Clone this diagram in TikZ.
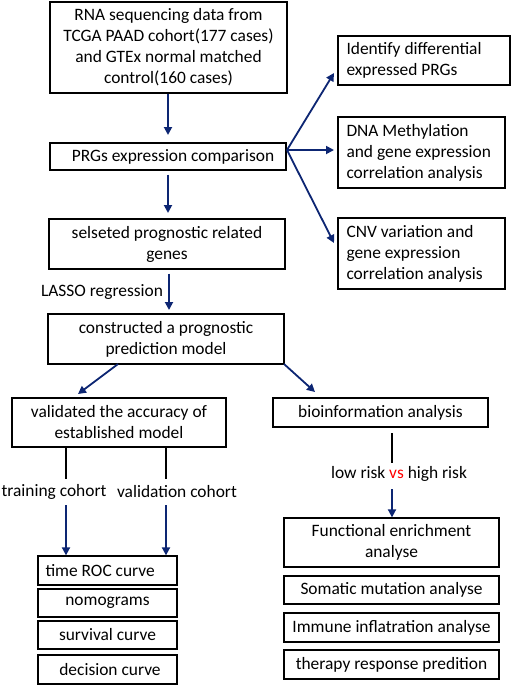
\documentclass[tikz,border=0pt]{standalone}
\usepackage{fontspec}
\setmainfont{Carlito}
\usetikzlibrary{arrows.meta,calc}
\definecolor{navy}{HTML}{0D2673}
\begin{document}
\begin{tikzpicture}[x=1pt,y=-1pt,
  box/.style={draw=black,line width=1.3pt,inner sep=0pt,align=center,font=\fontsize{17.4}{21}\selectfont},
  lbl/.style={inner sep=0pt,font=\fontsize{17.4}{21}\selectfont},
  arr/.style={draw=navy,line width=1.8pt,-{Triangle[length=8pt,width=8pt]}},
  blk/.style={draw=black,line width=2.6pt}]
\useasboundingbox (0,0) rectangle (512,686);
\fill[white] (0,0) rectangle (512,686);
% left column
\node[box,minimum width=237,minimum height=91] (A) at (168.5,47.5) {RNA sequencing data from\\TCGA PAAD cohort(177 cases)\\and GTEx normal matched\\control(160 cases)};
\node[box,minimum width=236,minimum height=27] (B) at (168,156.5) {\hspace*{10pt}PRGs expression comparison};
\node[box,minimum width=236,minimum height=50] (C) at (167,244) {selseted prognostic related\\genes};
\node[box,minimum width=236,minimum height=50] (G) at (166,339) {constructed a prognostic\\prediction model};
\node[box,minimum width=214,minimum height=49] (H) at (119,422.5) {validated the accuracy of\\established model};
\node[box,minimum width=215,minimum height=29] (I) at (380.5,412.5) {bioinformation analysis};
% right column
\node[box,minimum width=172,minimum height=49,align=left] (D) at (424,60.5) {\parbox{155pt}{Identify differential\\expressed PRGs}};
\node[box,minimum width=167,minimum height=71,align=left] (E) at (421.5,152.5) {\parbox{150pt}{DNA Methylation\\and gene expression\\correlation analysis}};
\node[box,minimum width=167,minimum height=71,align=left] (F) at (421.5,253.5) {\parbox{150pt}{CNV variation and\\gene expression\\correlation analysis}};
% bottom left stack
\node[box,minimum width=139,minimum height=29] (R1) at (107.5,570.5) {\makebox[124pt][l]{time ROC curve}};
\node[box,minimum width=139,minimum height=28] (R2) at (107.5,603) {nomograms};
\node[box,minimum width=139,minimum height=28] (R3) at (107.5,635) {survival curve};
\node[box,minimum width=139,minimum height=29] (R4) at (107.5,669.5) {\hspace*{5pt}decision curve};
% bottom right stack
\node[box,minimum width=215,minimum height=49] (S1) at (391.5,542.5) {Functional enrichment\\analyse};
\node[box,minimum width=215,minimum height=28] (S2) at (391.5,590) {Somatic mutation analyse};
\node[box,minimum width=215,minimum height=29] (S3) at (391.5,627.5) {Immune inflatration analyse};
\node[box,minimum width=215,minimum height=29] (S4) at (391.5,664.5) {therapy response predition};
% labels
\node[lbl] (lasso) at (102,292) {LASSO regression};
\node[lbl] (train) at (54,492) {training cohort};
\node[lbl] (valid) at (177,492) {validation cohort};
\node[lbl] (risk) at (399,474) {low risk {\color{red}vs} high risk};
% helper coordinates
\coordinate (a1) at (168,135);
\coordinate (b1) at (168,213);
\coordinate (c1) at (169,310);
\coordinate (fan) at (287,150);
\coordinate (d1) at (334,73);
\coordinate (e1) at (334,150);
\coordinate (f1) at (334,243);
\coordinate (g1) at (118,364);
\coordinate (h1) at (78,394);
\coordinate (g2) at (284,364);
\coordinate (i1) at (315,392);
\coordinate (t1) at (66,479);
\coordinate (t2) at (66,505);
\coordinate (v1) at (166,479);
\coordinate (v2) at (166,505);
\coordinate (k1) at (392,433);
\coordinate (k2) at (392,463);
\coordinate (k3) at (392,489);
% connectors
\draw[arr] (A.south -| a1) -- (a1);
\draw[arr] (B.south -| b1) ++(0,4) -- (b1);
\draw[arr] (C.south -| c1) ++(0,4) -- (c1);
\draw[arr] (fan) -- (d1);
\draw[arr] (fan) -- (e1);
\draw[arr] (fan) -- (f1);
\draw[arr] (g1) -- (h1);
\draw[arr] (g2) -- (i1);
\draw[blk] (H.south -| t1) -- (t1);
\draw[blk] (H.south -| v1) -- (v1);
\draw[arr] (t2) -- (R1.north -| t2);
\draw[arr] (v2) -- (R1.north -| v2);
\draw[blk] (k1) -- (k2);
\draw[arr] (k3) -- (S1.north -| k3);
\end{tikzpicture}
\end{document}
